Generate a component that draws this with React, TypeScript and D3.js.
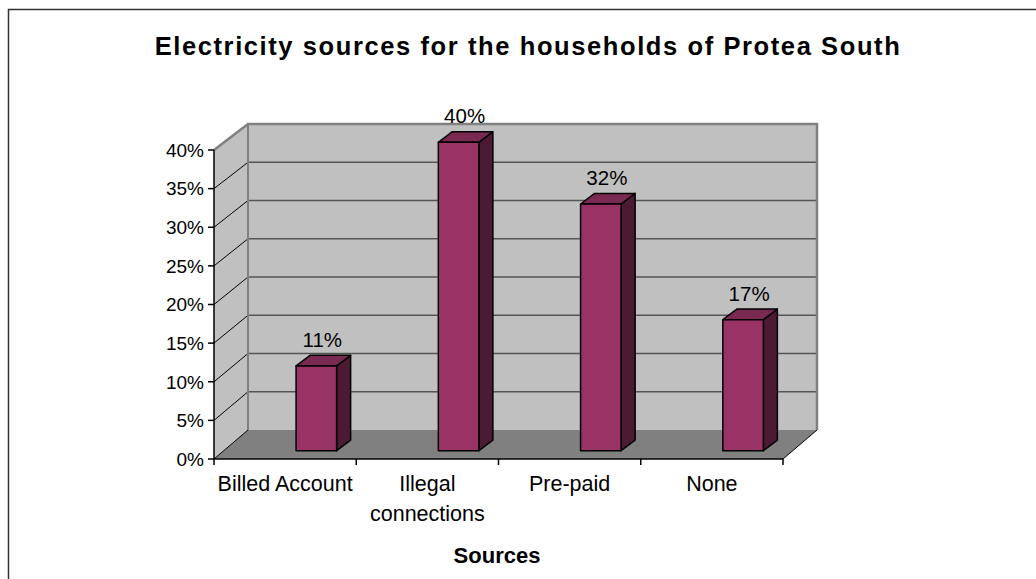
import React from "react";
import * as d3 from "d3";

const categories = ["Billed Account", "Illegal connections", "Pre-paid", "None"];
const categoryLines = [["Billed Account"], ["Illegal", "connections"], ["Pre-paid"], ["None"]];
const values = [11, 40, 32, 17];
const valueLabels = ["11%", "40%", "32%", "17%"];
const tickValues = [0, 5, 10, 15, 20, 25, 30, 35, 40];
const title = "Electricity sources for the households of Protea South";
const axisTitle = "Sources";

export default function App() {
  const W = 1036, H = 579;
  const font = "Liberation Sans, Arial, sans-serif";
  // front plane geometry
  const x = d3.scaleBand<string>().domain(categories).range([214, 783]).paddingInner(0).paddingOuter(0);
  const yFront = d3.scaleLinear().domain([0, 40]).range([459, 150]);
  const yBack = d3.scaleLinear().domain([0, 40]).range([430, 124]);
  const yBar = d3.scaleLinear().domain([0, 40]).range([450.7, 142.3]);
  const dX = 34; // wall depth
  const backLeft = 214 + dX, backRight = 783 + dX;
  const bw = x.bandwidth();
  const barDx = 14, barDy = 10.6;

  const pts = (a: number[][]) => a.map(p => p.join(",")).join(" ");

  return (
    <svg width={W} height={H} style={{ position: "absolute", left: 0, top: 0, background: "#fff" }}>
      <rect x={8.5} y={9.5} width={1200} height={700} fill="#fff" stroke="#333" strokeWidth={1.5} />
      <text x={528} y={55} textAnchor="middle" fontFamily={font} fontWeight="bold" fontSize={25.5} letterSpacing={1.6}>{title}</text>

      {/* back wall */}
      <rect x={backLeft} y={yBack(40)} width={backRight - backLeft} height={yBack(0) - yBack(40)} fill="#c0c0c0" />
      {/* side wall */}
      <polygon points={pts([[214, yFront(40)], [backLeft, yBack(40)], [backLeft, yBack(0)], [214, yFront(0)]])} fill="#c0c0c0" />
      {/* gridlines on back wall */}
      {tickValues.filter(t => t > 0 && t < 40).map(t => (
        <line key={"g" + t} x1={backLeft} x2={backRight} y1={yBack(t)} y2={yBack(t)} stroke="#555" strokeWidth={1.5} />
      ))}
      {/* side wall diagonals */}
      {tickValues.filter(t => t > 0 && t < 40).map(t => (
        <line key={"s" + t} x1={214} x2={backLeft} y1={yFront(t)} y2={yBack(t)} stroke="#000" strokeWidth={1} />
      ))}
      {/* wall borders */}
      <polyline points={pts([[214, yFront(40)], [backLeft, yBack(40)], [backRight, yBack(40)], [backRight, yBack(0)]])} fill="none" stroke="#808080" strokeWidth={2.5} />
      <line x1={backLeft} x2={backLeft} y1={yBack(40)} y2={yBack(0)} stroke="#808080" strokeWidth={2} />
      {/* floor */}
      <polygon points={pts([[214, yFront(0)], [backLeft, yBack(0)], [backRight, yBack(0)], [783, yFront(0)]])} fill="#808080" />
      <line x1={214} y1={yFront(0)} x2={backLeft} y2={yBack(0)} stroke="#000" strokeWidth={1} />
      <line x1={783} y1={yFront(0)} x2={backRight} y2={yBack(0)} stroke="#000" strokeWidth={1} />

      {/* bars */}
      {categories.map((c, i) => {
        const x0 = (x(c) as number) + bw * 0.577;
        const x1 = x0 + bw * 0.285;
        const yb = yBar(0), yt = yBar(values[i]);
        return (
          <g key={c} stroke="#000" strokeWidth={1.5} strokeLinejoin="round">
            <polygon points={pts([[x1, yt], [x1 + barDx, yt - barDy], [x1 + barDx, yb - barDy], [x1, yb]])} fill="#4c1a33" />
            <polygon points={pts([[x0, yt], [x0 + barDx, yt - barDy], [x1 + barDx, yt - barDy], [x1, yt]])} fill="#7a2952" />
            <rect x={x0} y={yt} width={x1 - x0} height={yb - yt} fill="#993366" />
            <text x={(x0 + x1) / 2 + 6} y={yt - 19} textAnchor="middle" fontFamily={font} fontSize={20.5} stroke="none" fill="#000">{valueLabels[i]}</text>
          </g>
        );
      })}

      {/* y axis */}
      <line x1={214} x2={214} y1={yFront(40)} y2={yFront(0)} stroke="#000" strokeWidth={1.5} />
      {tickValues.map(t => (
        <g key={"t" + t}>
          <line x1={208} x2={214} y1={yFront(t)} y2={yFront(t)} stroke="#000" strokeWidth={1.5} />
          <text x={204} y={yFront(t)} dy="0.36em" textAnchor="end" fontFamily={font} fontSize={19}>{t + "%"}</text>
        </g>
      ))}
      {/* x axis */}
      <line x1={214} x2={783} y1={yFront(0)} y2={yFront(0)} stroke="#000" strokeWidth={1.5} />
      {[...categories.map(c => x(c) as number), 783].map((v, i) => (
        <line key={"xt" + i} x1={v} x2={v} y1={yFront(0)} y2={yFront(0) + 6} stroke="#000" strokeWidth={1.5} />
      ))}
      {categories.map((c, i) => (
        <text key={"cl" + c} x={(x(c) as number) + bw / 2} y={491} textAnchor="middle" fontFamily={font} fontSize={21.5}>
          {categoryLines[i].map((l, j) => (
            <tspan key={j} x={(x(c) as number) + bw / 2} y={491 + j * 30}>{l}</tspan>
          ))}
        </text>
      ))}
      <text x={497} y={563} textAnchor="middle" fontFamily={font} fontWeight="bold" fontSize={22}>{axisTitle}</text>
    </svg>
  );
}
